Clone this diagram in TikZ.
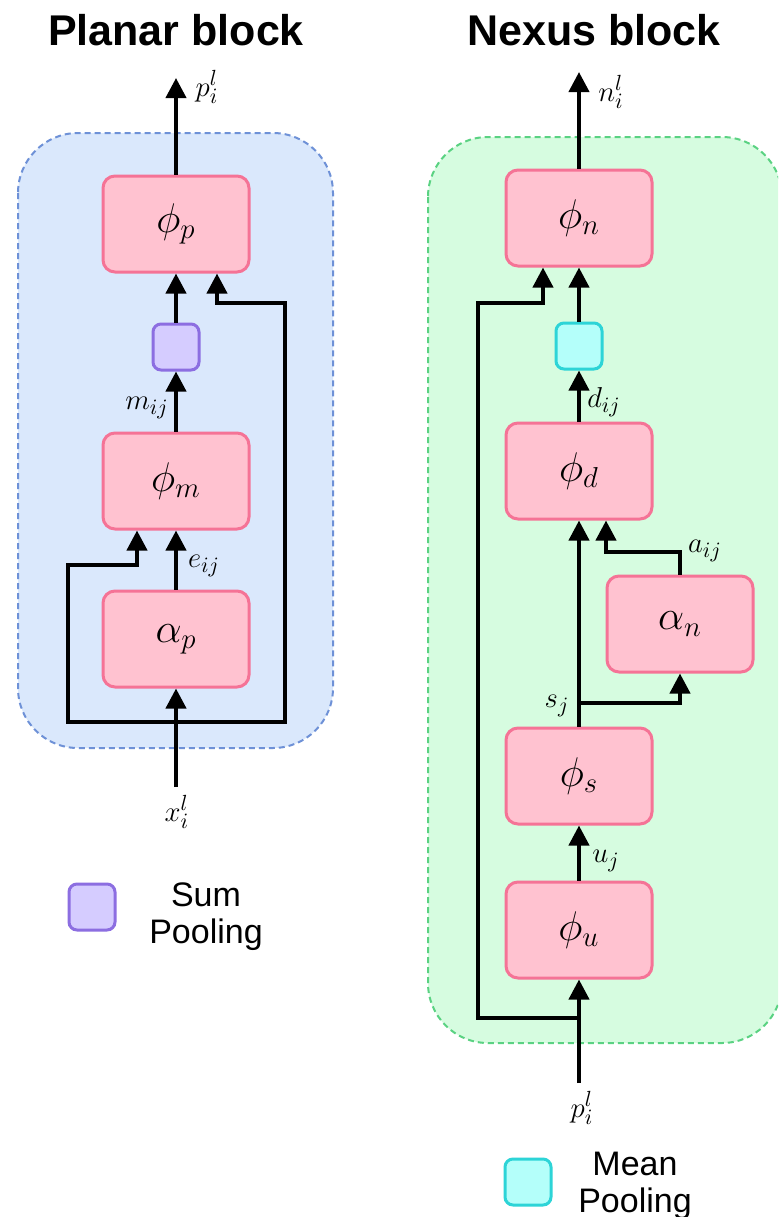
\documentclass[tikz,border=0pt]{standalone}
\usepackage{fontspec}
\setsansfont{Liberation Sans}
\usetikzlibrary{arrows.meta}
\DeclareMathSizes{20}{20}{15.5}{11}
\DeclareMathSizes{15}{15}{10.5}{8}
\definecolor{pinkfill}{RGB}{255,194,208}
\definecolor{pinkline}{RGB}{245,115,150}
\definecolor{bluefill}{RGB}{218,232,252}
\definecolor{blueline}{RGB}{110,145,215}
\definecolor{greenfill}{RGB}{214,252,224}
\definecolor{greenline}{RGB}{90,210,130}
\definecolor{purfill}{RGB}{213,204,255}
\definecolor{purline}{RGB}{140,110,225}
\definecolor{cyanfill}{RGB}{180,255,250}
\definecolor{cyanline}{RGB}{45,212,215}
\begin{document}
\begin{tikzpicture}[x=0.5pt,y=-0.5pt,
 fnbox/.style={draw=pinkline,fill=pinkfill,line width=1.5pt,rounded corners=6pt,minimum width=73pt,minimum height=48pt,inner sep=0pt,font=\fontsize{20}{22}\selectfont},
 poolbox/.style={line width=1.5pt,rounded corners=4pt,minimum size=23pt,inner sep=0pt},
 arr/.style={line width=2pt,-{Triangle[width=10pt,length=10pt]}},
 lab/.style={font=\fontsize{15}{17}\selectfont,inner sep=0pt},
 title/.style={font=\sffamily\bfseries\fontsize{21.5}{24}\selectfont,anchor=base},
 legend/.style={font=\sffamily\fontsize{17}{18.5}\selectfont,align=center,inner sep=0pt},
 cont/.style={line width=1pt,dash pattern=on 3pt off 2pt,rounded corners=30pt}]
\useasboundingbox (0,0) rectangle (778,1217);
\fill[white] (0,0) rectangle (778,1217);
% containers
\draw[cont,draw=blueline,fill=bluefill] (18,133) rectangle (333,748);
\begin{scope}
\clip (0,0) rectangle (778,1217);
\draw[cont,draw=greenline,fill=greenfill] (428,137) rectangle (782,1043);
\end{scope}
% titles
\node[title] (t1) at (176,45) {Planar block};
\node[title] (t2) at (594,45) {Nexus block};
% ---- Planar block ----
\node[fnbox] (phip) at (176,224) {$\phi_p$};
\node[poolbox,draw=purline,fill=purfill] (sum) at (176,347) {};
\node[fnbox] (phim) at (176,481) {$\phi_m$};
\node[fnbox] (alphap) at (176,639) {$\alpha_p$};
\coordinate (pout) at (176,78);
\coordinate (xin) at (176,787);
\coordinate (jl) at (176,722);
\coordinate (L1) at (68,722);
\coordinate (L2) at (68,565);
\coordinate (L3) at (137,565);
\coordinate (R1) at (285,722);
\coordinate (R2) at (285,303);
\coordinate (R3) at (217,303);
\draw[arr] (phip.north) -- (pout);
\draw[arr] (sum.north) -- (phip.south);
\draw[arr] (phim.north) -- (sum.south);
\draw[arr] (alphap.north) -- (phim.south);
\draw[arr] (xin) -- (alphap.south);
\draw[arr] (jl) -- (L1) -- (L2) -- (L3) -- (L3 |- phim.south);
\draw[arr] (jl) -- (R1) -- (R2) -- (R3) -- (R3 |- phip.south);
\node[lab] (lp) at (207,87) {$p_i^l$};
\node[lab] (lm) at (147,408) {$m_{ij}$};
\node[lab] (le) at (204,566) {$e_{ij}$};
\node[lab] (lx) at (177,812) {$x_i^l$};
% legend left
\node[poolbox,draw=purline,fill=purfill] (leg1) at (92,907) {};
\node[legend] (leg1t) at (206,917) {Sum\\Pooling};
% ---- Nexus block ----
\node[fnbox] (phin) at (579,218) {$\phi_n$};
\node[poolbox,draw=cyanline,fill=cyanfill] (mean) at (579,346) {};
\node[fnbox] (phid) at (579,471) {$\phi_d$};
\node[fnbox] (alphan) at (680,624) {$\alpha_n$};
\node[fnbox] (phis) at (579,776) {$\phi_s$};
\node[fnbox] (phiu) at (579,930) {$\phi_u$};
\coordinate (nout) at (579,72);
\coordinate (pin) at (579,1083);
\coordinate (jr) at (579,1018);
\coordinate (sj) at (579,703);
\coordinate (S1) at (680,703);
\coordinate (A1) at (680,552);
\coordinate (A2) at (606,552);
\coordinate (N1) at (478,1018);
\coordinate (N2) at (478,303);
\coordinate (N3) at (543,303);
\draw[arr] (phin.north) -- (nout);
\draw[arr] (mean.north) -- (phin.south);
\draw[arr] (phid.north) -- (mean.south);
\draw[arr] (phis.north) -- (phid.south);
\draw[arr] (sj) -- (S1) -- (alphan.south);
\draw[arr] (alphan.north) -- (A1) -- (A2) -- (A2 |- phid.south);
\draw[arr] (phiu.north) -- (phis.south);
\draw[arr] (pin) -- (phiu.south);
\draw[arr] (jr) -- (N1) -- (N2) -- (N3) -- (N3 |- phin.south);
\node[lab] (ln) at (611,92) {$n_i^l$};
\node[lab] (ld) at (604,402) {$d_{ij}$};
\node[lab] (la) at (705,551) {$a_{ij}$};
\node[lab] (ls) at (557,706) {$s_j$};
\node[lab] (lu) at (606,861) {$u_j$};
\node[lab] (lp2) at (582,1108) {$p_i^l$};
% legend right
\node[poolbox,draw=cyanline,fill=cyanfill] (leg2) at (528,1182) {};
\node[legend] (leg2t) at (635,1186) {Mean\\Pooling};
\end{tikzpicture}
\end{document}
